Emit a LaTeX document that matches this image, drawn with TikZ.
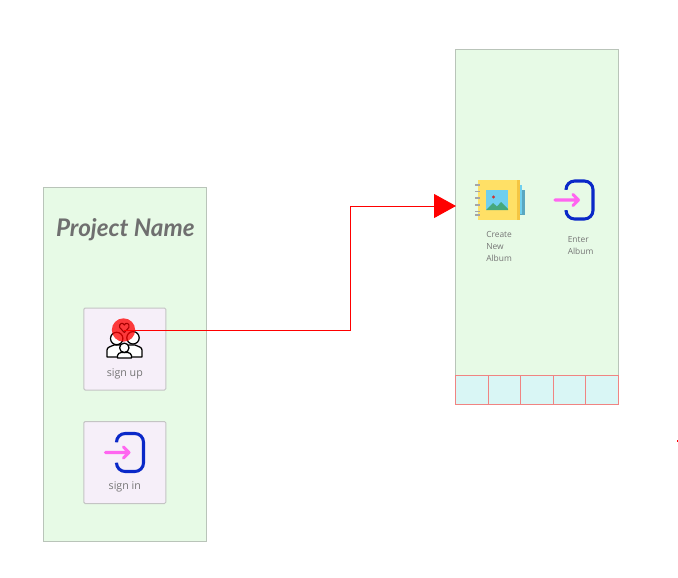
\documentclass[tikz,border=0pt]{standalone}
\usepackage{fontspec}
\usepackage{xcolor}
\setmainfont{Open Sans}
\newfontfamily\titlefont{Lato}
\usetikzlibrary{positioning,arrows.meta}
\definecolor{ScreenGreen}{HTML}{E7FAE6}
\definecolor{ScreenEdge}{HTML}{B9C4B9}
\definecolor{CardLilac}{HTML}{F6EFF9}
\definecolor{CardEdge}{HTML}{C4C4C4}
\definecolor{TabCyan}{HTML}{D9F6F5}
\definecolor{TabEdge}{HTML}{F08482}
\definecolor{LabelGrey}{HTML}{757575}
\definecolor{DoorBlue}{HTML}{0A28C8}
\definecolor{ArrowPink}{HTML}{FF66F0}
\definecolor{CoverYellow}{HTML}{FFE066}
\definecolor{CoverEdge}{HTML}{F5C542}
\definecolor{PageLight}{HTML}{6FD0F0}
\definecolor{PageDark}{HTML}{5BA7C0}
\definecolor{PhotoSky}{HTML}{6FCFEF}
\definecolor{PhotoHill}{HTML}{46A87C}
\tikzset{
  screen/.style={draw=ScreenEdge, fill=ScreenGreen, line width=.75pt, minimum width=122.5pt, minimum height=266.2pt, inner sep=0pt},
  card/.style={draw=CardEdge, fill=CardLilac, line width=.75pt, rounded corners=1pt, minimum width=61.5pt, minimum height=61.5pt, inner sep=0pt},
  tabcell/.style={draw=TabEdge, fill=TabCyan, line width=.75pt, minimum width=24.5pt, minimum height=22pt, inner sep=0pt},
  cardlabel/.style={text=LabelGrey, font=\fontsize{8}{10}\selectfont, inner sep=0pt},
  smalllabel/.style={text=LabelGrey, font=\fontsize{6.3}{9}\selectfont, inner sep=0pt, align=left, anchor=north west},
  enter icon/.pic={
    \draw[DoorBlue, line width=2.3pt, rounded corners=6.5pt] (-7,-11) -- (-7,-19) -- (20,-19) -- (20,19) -- (-7,19) -- (-7,11);
    \draw[ArrowPink, line width=2.3pt, line cap=round, line join=round] (-18,0) -- (5.5,0) (0,-5.5) -- (5.5,0) -- (0,5.5);
  },
}
\begin{document}
\begin{tikzpicture}[x=.75pt,y=-.75pt,>=latex]
\useasboundingbox (0,0) rectangle (678,578);
\node[screen] (home) at (124.8,364.5) {};
\node[screen] (albums) at (536.8,226.7) {};
\node[text=LabelGrey!95!black, font=\titlefont\bfseries\itshape\fontsize{18.2}{20}\selectfont, inner sep=0pt] (title) at (125.3,229.5) {Project Name};
\node[card] (signup) at (124.8,349) {};
\node[card] (signin) at (124.8,462.5) {};
\node[cardlabel] (signuptext) at (124.8,373.5) {sign up};
\node[cardlabel] (signintext) at (124.8,486.5) {sign in};
\foreach \i in {0,...,4}
  \node[tabcell, anchor=north west] (tab\i) at (455+32.6*\i,374.8) {};
% family icon
\begin{scope}[black, line width=.95pt, line join=round, line cap=round]
\draw[fill=white] (107,357) -- (107,350) .. controls (107,347) and (111,346.5) .. (114,345) -- (120,345) .. controls (122,346) and (124,347) .. (125,348) -- (118,357) -- cycle;
\draw[fill=white] (142,357) -- (142,350) .. controls (142,347) and (138,346.5) .. (135,345) -- (129,345) .. controls (127,346) and (125,347) .. (124,348) -- (131,357) -- cycle;
\draw[fill=white] (116.7,338.5) circle (6.2);
\draw[fill=white] (133,337.8) circle (6.2);
\draw[fill=white] (117.5,358) -- (117.5,355.5) .. controls (117.5,353.5) and (120,353) .. (121,352.5) -- (128,352.5) .. controls (129,353) and (131.5,353.5) .. (131.5,355.5) -- (131.5,358) -- cycle;
\draw[fill=white] (124.3,347.8) circle (4.7);
\end{scope}
\node[circle, fill=red, opacity=.76, minimum size=17.5pt, inner sep=0pt] (heartdot) at (123.5,330) {};
\draw[red!65!black, line width=.8pt, line join=round] (124.3,332.5) -- (119.7,327.5) .. controls (118.5,323) and (123,322) .. (124.3,325) .. controls (125.5,322) and (130,323) .. (128.9,327.5) -- cycle;
\pic at (123.5,452.5) {enter icon};
% album icon
\fill[PageDark] (516,190) rectangle (525,215);
\fill[PageLight] (516,185) rectangle (521.5,214);
\node[fill=CoverYellow, minimum width=31.5pt, minimum height=30pt, inner sep=0pt] (albumcover) at (499,200) {};
\fill[CoverEdge] (516.7,180) rectangle (520,220);
\fill[PhotoSky] (486,190) rectangle (508,210);
\fill[PhotoHill] (486,210) -- (493,203) -- (497,206.5) -- (501,202) -- (508,209) -- (508,210) -- cycle;
\fill[red!75!black!80!white] (493.5,197) circle (1.7);
\foreach \y in {185,191.5,198,205,211.5,215}
  \draw[gray!70, line width=1pt] (475,\y) -- (480,\y);
\node[smalllabel] (createtext) at (486,231) {Create\\New\\Album};
\pic at (573,200) {enter icon};
\node[smalllabel] (entertext) at (567.5,236.5) {Enter\\Album};
% connector
\coordinate (elbow) at (350.5,206);
\coordinate (albumsin) at (456,206);
\draw[red, line width=.75pt, -{Triangle[length=16.5pt,width=18pt]}] (heartdot.center) -| (elbow) -- (albumsin);
\fill[red] (676.5,439.5) rectangle (678,441.5);
\end{tikzpicture}
\end{document}
